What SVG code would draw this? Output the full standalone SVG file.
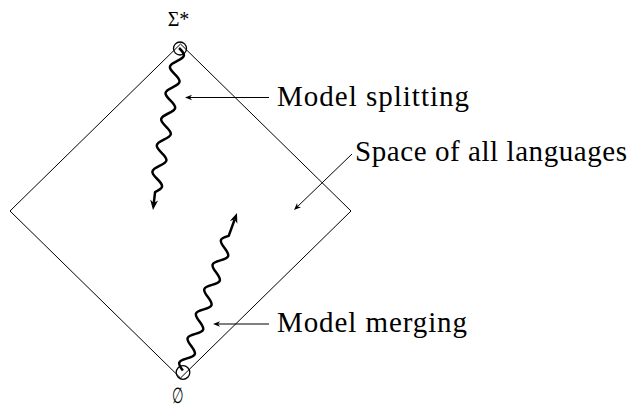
<svg xmlns="http://www.w3.org/2000/svg" width="633" height="406" viewBox="0 0 633 406">
<style>
.thin{fill:none;stroke:#000;stroke-width:1}
.snake{fill:none;stroke:#000;stroke-width:2.5;stroke-linejoin:round}
.ring{fill:none;stroke:#000;stroke-width:1.3}
</style>
<defs>
<marker id="big" markerUnits="userSpaceOnUse" orient="auto" viewBox="-4 -5 12 10" refX="0" refY="0" markerWidth="12" markerHeight="10"><path d="M7,0 L-3,-4 L0,0 L-3,4 Z" fill="#000"/></marker>
<marker id="small" markerUnits="userSpaceOnUse" orient="auto" viewBox="-3 -4 9 8" refX="0" refY="0" markerWidth="9" markerHeight="8"><path d="M5,0 L-2,-2.8 L0,0 L-2,2.8 Z" fill="#000"/></marker>
</defs>
<g id="space">
<polygon class="thin" points="180.5,44 351,211 180.5,378 10,211"/>
</g>
<g id="sigma-star">
<circle class="ring" cx="180" cy="48.5" r="6.5"/>
<text font-family="Liberation Serif" font-size="20" x="178.5" y="26" text-anchor="middle">Σ*</text>
</g>
<g id="empty-set">
<circle class="ring" cx="183" cy="372.5" r="6.8"/>
<text transform="translate(178,402.5) scale(0.6,1)" text-anchor="middle" font-family="DejaVu Serif" font-size="22">∅</text>
</g>
<g id="label-splitting"><text font-family="Liberation Serif" font-size="29" x="277" y="106" textLength="192" lengthAdjust="spacing">Model splitting</text></g>
<g id="label-space"><text font-family="Liberation Serif" font-size="29" x="355" y="161" textLength="272" lengthAdjust="spacing">Space of all languages</text></g>
<g id="label-merging"><text font-family="Liberation Serif" font-size="29" x="277" y="332" textLength="190" lengthAdjust="spacing">Model merging</text></g>
<g id="connectors">
<path class="snake" marker-end="url(#big)" d="M179.1,48 C186.06,54.88 185.73,56.86 176.92,61.1 S167.77,67.32 174.73,74.2 S181.36,83.06 172.55,87.3 S163.4,93.52 170.36,100.4 S176.99,109.26 168.18,113.5 S159.03,119.72 165.99,126.6 S172.62,135.46 163.81,139.7 S154.66,145.92 161.62,152.8 S168.25,161.66 159.44,165.9 S150.29,172.12 157.25,179 S163.88,187.86 155.07,192.1 L153.8,203.05"/>
<path class="snake" marker-end="url(#big)" d="M182.9,370.6 C177.09,362.83 177.72,360.97 187.07,358.35 S197.04,353.87 191.23,346.1 S186.05,336.47 195.4,333.85 S205.37,329.37 199.56,321.6 S194.38,311.97 203.73,309.35 S213.7,304.87 207.89,297.1 S202.71,287.47 212.06,284.85 S222.03,280.37 216.22,272.6 S211.04,262.97 220.39,260.35 S230.36,255.87 224.55,248.1 S219.37,238.47 228.72,235.85 L234.6,219.6"/>
<line class="thin" marker-end="url(#small)" x1="269" y1="97.5" x2="190" y2="97.5"/>
<line class="thin" marker-end="url(#small)" x1="269" y1="324" x2="218" y2="324"/>
<line class="thin" marker-end="url(#small)" x1="352" y1="154" x2="297.6" y2="206.5"/>
</g>
</svg>
